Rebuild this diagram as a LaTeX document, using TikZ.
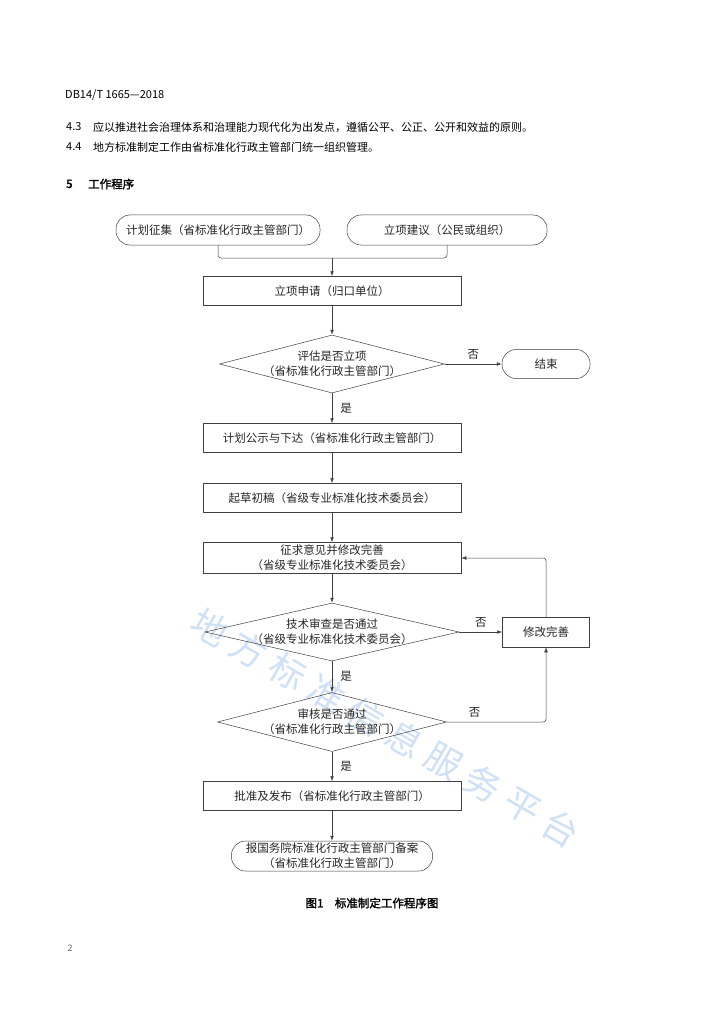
\documentclass[tikz,border=0pt]{standalone}
\usepackage{fontspec}
\setmainfont{Noto Sans CJK SC}[AutoFakeBold=2]
\usetikzlibrary{arrows.meta,shapes.geometric}
\definecolor{wmblue}{RGB}{208,224,246}
\tikzset{
  line/.style={draw=black!75, line width=0.5pt},
  arrow/.style={line, -{Latex[length=5pt,width=3.6pt]}},
  stepbox/.style={line, rectangle, minimum width=258pt, minimum height=29pt, inner sep=0pt, align=center},
  startbox/.style={line, rectangle, rounded corners=14pt, minimum height=30pt, inner sep=0pt, align=center},
  choice/.style={line, diamond, inner sep=0pt},
  lbl/.style={inner sep=0pt},
  head/.style={anchor=west, inner sep=0pt, text=black, font=\fontsize{11}{14}\selectfont},
  wm/.style={text=wmblue, font=\fontsize{36}{36}\selectfont, rotate=-30, inner sep=0pt}
}

\begin{document}
\begin{tikzpicture}[x=1pt, y=-1pt, font=\fontsize{11.5}{15}\selectfont, text=black!85]
		%%%%% PAGE %%%%%
		\useasboundingbox[fill=white] (0,0) rectangle (724,1024);
		
		\foreach \c [count=\i from 0] in {地,方,标,准,信,息,服,务,平,台}
			\node[wm] (wm\i) at ({210+39*\i},{627+22.4*\i}) {\c};
		
		\node[head] (code) at (65,95) {DB14/T 1665—2018};
		\node[head] (n43) at (66,127) {4.3};
		\node[head] (t43) at (93,127) {应以推进社会治理体系和治理能力现代化为出发点，遵循公平、公正、公开和效益的原则。};
		\node[head] (n44) at (66,147) {4.4};
		\node[head] (t44) at (93,147) {地方标准制定工作由省标准化行政主管部门统一组织管理。};
		\node[head, font=\fontsize{11.5}{14}\selectfont\bfseries] (n5) at (66,184) {5};
		\node[head, font=\fontsize{11.5}{14}\selectfont\bfseries] (t5) at (88,184) {工作程序};
		
		%%%%% CHART %%%%%
		\node[startbox, minimum width=204pt] (plan) at (218,230) {计划征集（省标准化行政主管部门）};
		\node[startbox, minimum width=200pt] (advice) at (447,230) {立项建议（公民或组织）};
		\coordinate (merge) at (332,258);
		\node[stepbox] (apply) at (332,291) {立项申请（归口单位）};
		
		\node[choice, minimum width=225pt, minimum height=58pt] (assess) at (332,364) {};
		\node[align=center, inner sep=0pt] (assesstext) at (assess) {评估是否立项\\（省标准化行政主管部门）};
		\node[startbox, minimum width=88pt, minimum height=29pt] (finish) at (546,364) {结束};
		
		\node[stepbox] (publish) at (332,438) {计划公示与下达（省标准化行政主管部门）};
		\node[stepbox] (draft) at (332,498) {起草初稿（省级专业标准化技术委员会）};
		\node[stepbox, minimum height=31pt] (opinion) at (332,558) {征求意见并修改完善\\（省级专业标准化技术委员会）};
		
		\node[choice, minimum width=254pt, minimum height=58pt] (tech) at (332,632) {};
		\node[align=center, inner sep=0pt] (techtext) at (tech) {技术审查是否通过\\（省级专业标准化技术委员会）};
		\node[line, rectangle, minimum width=87pt, minimum height=30pt, inner sep=0pt] (revise) at (546,632) {修改完善};
		
		\node[choice, minimum width=229pt, minimum height=59pt] (audit) at (332,722) {};
		\node[align=center, inner sep=0pt] (audittext) at (audit) {审核是否通过\\（省标准化行政主管部门）};
		
		\node[stepbox] (approve) at (332,796) {批准及发布（省标准化行政主管部门）};
		\node[startbox, minimum width=201pt] (record) at (332,856) {报国务院标准化行政主管部门备案\\（省标准化行政主管部门）};
		
		%%%%% CONNECTORS %%%%%
		\draw[line, rounded corners=3pt] (plan.south) |- (merge) -| (advice.south);
		\draw[arrow] (merge) -- (apply.north);
		\draw[arrow] (apply.south) -- (assess.north);
		\draw[arrow] (assess.east) -- (finish.west) node[lbl, midway, above=4pt] {否};
		\draw[arrow] (assess.south) -- (publish.north) node[lbl, midway, right=8pt] {是};
		\draw[arrow] (publish.south) -- (draft.north);
		\draw[arrow] (draft.south) -- (opinion.north);
		\draw[arrow] (opinion.south) -- (tech.north);
		\draw[arrow] (tech.east) -- (revise.west) node[lbl, midway, above=4pt] {否};
		\draw[arrow] (tech.south) -- (audit.north) node[lbl, midway, right=8pt] {是};
		\draw[arrow, rounded corners=3pt] (audit.east) -| (revise.south) node[lbl, pos=0.14, above=4pt] {否};
		\draw[arrow, rounded corners=3pt] (revise.north) |- (opinion.east);
		\draw[arrow] (audit.south) -- (approve.north) node[lbl, midway, right=8pt] {是};
		\draw[arrow] (approve.south) -- (record.north);
		
		%%%%% CAPTION %%%%%
		\node[font=\fontsize{11.5}{15}\selectfont\bfseries, text=black, inner sep=0pt] (caption) at (372,903) {图1\quad 标准制定工作程序图};
		\node[font=\fontsize{9}{10}\selectfont, text=black!60, inner sep=0pt] (page) at (70,948) {2};
	\end{tikzpicture}
\end{document}
